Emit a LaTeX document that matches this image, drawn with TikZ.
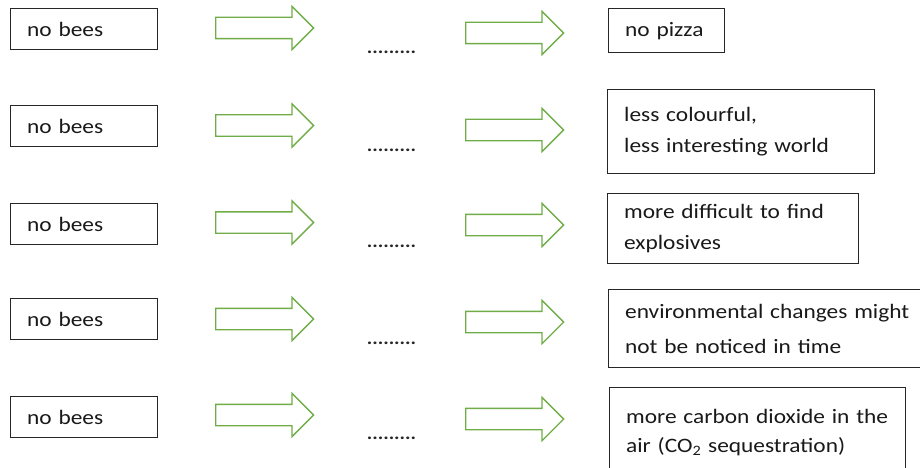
\documentclass[tikz,border=0pt]{standalone}
\usepackage{fontspec}
\setmainfont[FakeStretch=1.14]{Carlito}
\usepackage{tikz}
\usetikzlibrary{shapes.arrows}
\definecolor{arrowgreen}{HTML}{70AD47}
\definecolor{boxgray}{HTML}{262626}
\tikzset{cause style/.style={
		draw=boxgray,
		line width=1.3pt,
		rectangle,
		anchor=north west,
		minimum width=147pt,
		minimum height=41pt,
		text width=114pt,
		inner xsep=16.5pt,
		inner ysep=0pt,
		align=left,
		text=black!90,
		font=\fontsize{20.5}{31}\selectfont,
	},
	effect style/.style={
		draw=boxgray,
		line width=1.3pt,
		rectangle,
		anchor=north west,
		inner xsep=16.5pt,
		inner ysep=0pt,
		align=left,
		text=black!90,
		font=\fontsize{20.5}{31}\selectfont,
	},
	arrow style/.style={
		single arrow,
		draw=arrowgreen,
		fill=white,
		line width=1.3pt,
		anchor=west,
		minimum height=98pt,
		inner xsep=0pt,
		inner ysep=10pt,
		single arrow head extend=11pt,
	},
	dots style/.style={
		inner sep=0pt,
		text=black!85,
		font=\fontsize{18}{18}\selectfont\bfseries
	}
}
\begin{document}
\begin{tikzpicture}[x=1pt,y=-1pt]
	\useasboundingbox (0,0) rectangle (920,468);
	\clip (0,0) rectangle (920,468);
	\fill[white] (0,0) rectangle (920,468);

	% row 1
	\node[cause style] (Bees1) at (10,8) {no bees};
	\node[arrow style] (ArrowA1) at (215,28) {};
	\node[dots style] (Gap1) at (391.5,52) {.........};
	\node[arrow style] (ArrowB1) at (465,33) {};
	\node[effect style, minimum width=116pt, minimum height=44pt, text width=83pt] (Pizza) at (608,8) {no pizza};

	% row 2
	\node[cause style] (Bees2) at (10,105) {no bees};
	\node[arrow style] (ArrowA2) at (215,125.5) {};
	\node[dots style] (Gap2) at (391.5,150) {.........};
	\node[arrow style] (ArrowB2) at (465,130) {};
	\node[effect style, minimum width=267pt, minimum height=84pt, text width=234pt] (World) at (607,89) {less colourful,\\less interesting world};

	% row 3
	\node[cause style] (Bees3) at (10,203) {no bees};
	\node[arrow style] (ArrowA3) at (215,222.5) {};
	\node[dots style] (Gap3) at (391.5,246) {.........};
	\node[arrow style] (ArrowB3) at (465,225) {};
	\node[effect style, minimum width=251pt, minimum height=70pt, text width=218pt] (Explosives) at (607,193) {more difficult to find\\explosives};

	% row 4
	\node[cause style] (Bees4) at (10,298) {no bees};
	\node[arrow style] (ArrowA4) at (215,319) {};
	\node[dots style] (Gap4) at (391.5,343) {.........};
	\node[arrow style] (ArrowB4) at (465,322) {};
	\node[effect style, minimum width=330pt, minimum height=78pt, text width=297pt, font=\fontsize{20.5}{35}\selectfont] (Changes) at (608,289) {environmental changes might\\not be noticed in time};

	% row 5
	\node[cause style] (Bees5) at (10,396) {no bees};
	\node[arrow style] (ArrowA5) at (215,415) {};
	\node[dots style] (Gap5) at (391.5,438) {.........};
	\node[arrow style] (ArrowB5) at (465,419) {};
	\node[effect style, minimum width=296pt, minimum height=90pt, text width=263pt, font=\fontsize{20.5}{29}\selectfont] (Carbon) at (609,387) {more carbon dioxide in the\\air (CO\textsubscript{2} sequestration)};
\end{tikzpicture}
\end{document}
